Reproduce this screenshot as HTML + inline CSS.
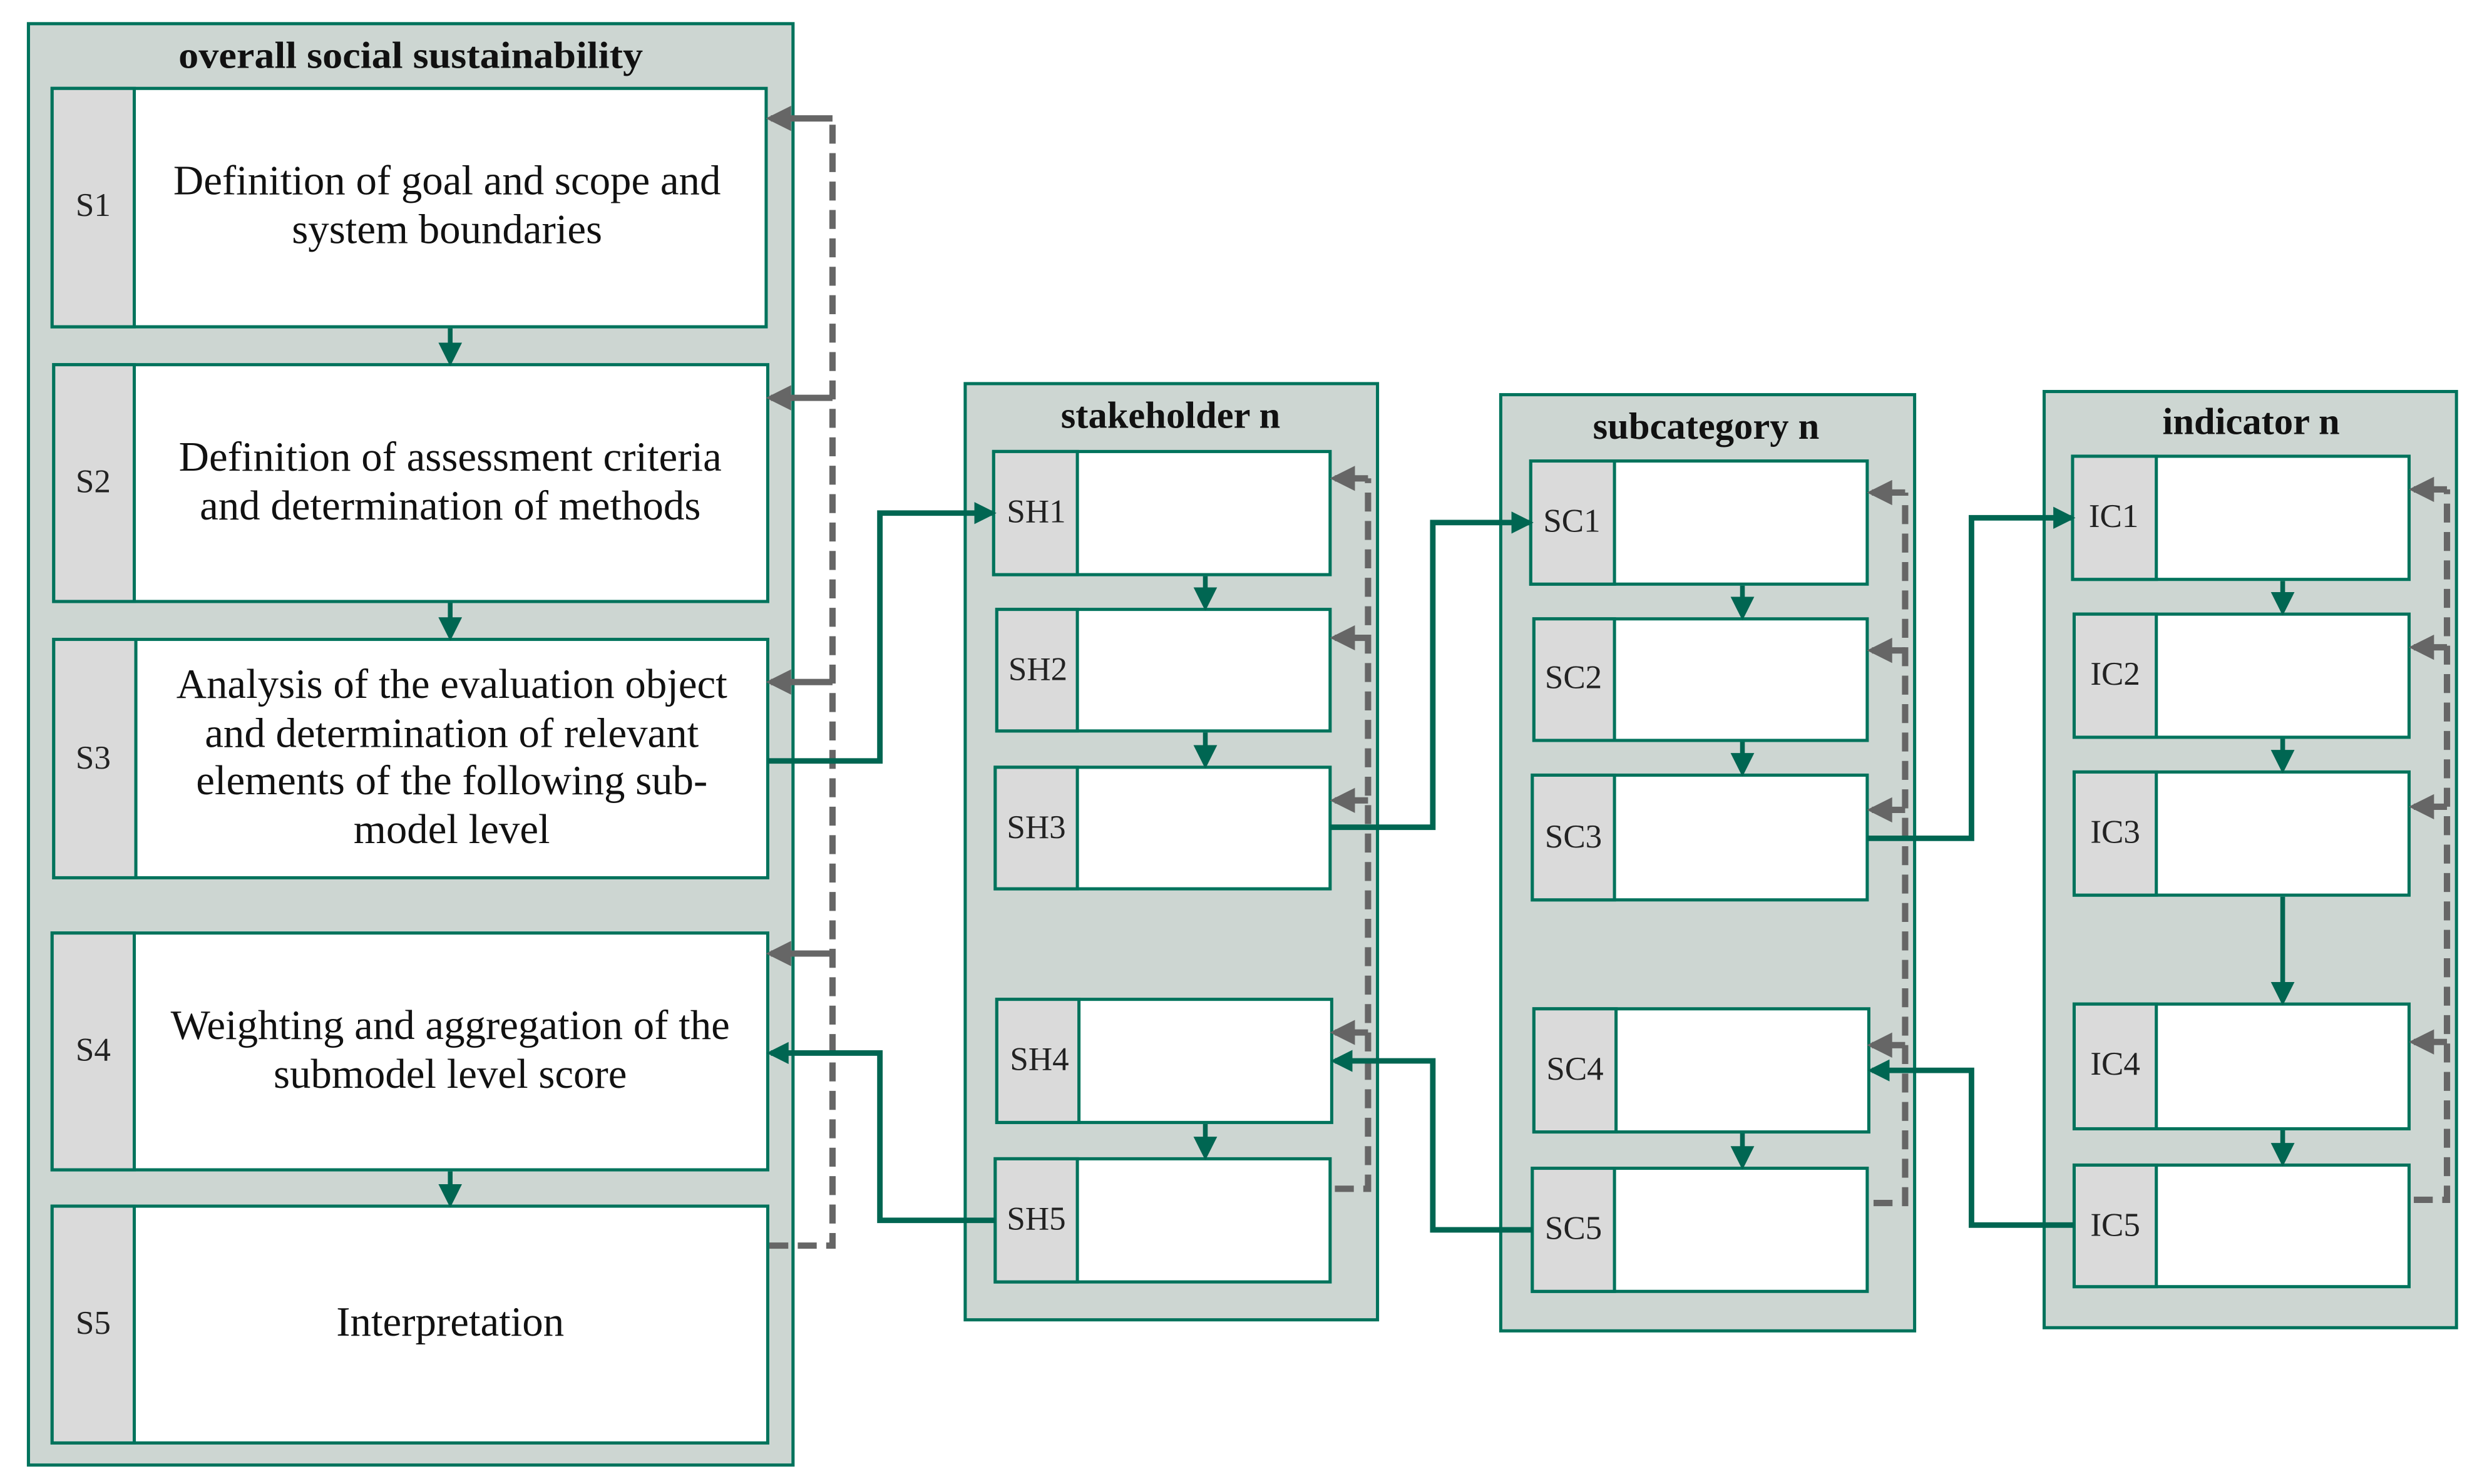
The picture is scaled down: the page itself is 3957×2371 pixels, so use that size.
<!DOCTYPE html>
<html><head><meta charset="utf-8"><style>html,body{margin:0;padding:0;background:#fff}svg{display:block}</style></head><body>
<svg width="3957" height="2371" viewBox="0 0 1568 940" preserveAspectRatio="none" xmlns="http://www.w3.org/2000/svg" font-family="'Liberation Serif', serif">
<defs>
<marker id="g" markerWidth="4" markerHeight="4" refX="3.2" refY="2" orient="auto" markerUnits="strokeWidth"><path d="M0,0 L4,2 L0,4 z" fill="#006652"/></marker>
<marker id="gs" markerWidth="5" markerHeight="5" refX="4" refY="2.5" orient="auto" markerUnits="strokeWidth"><path d="M0,0 L5,2.5 L0,5 z" fill="#006652"/></marker>
<marker id="d" markerWidth="4" markerHeight="4" refX="3.2" refY="2" orient="auto" markerUnits="strokeWidth"><path d="M0,0 L4,2 L0,4 z" fill="#666"/></marker>
</defs>
<g stroke="#00735c" stroke-width="2">
<rect x="18" y="15" width="484" height="913" fill="#cdd6d2"/>
<rect x="611" y="243" width="261" height="593" fill="#cdd6d2"/>
<rect x="950" y="250" width="262" height="593" fill="#cdd6d2"/>
<rect x="1294" y="248" width="261" height="593" fill="#cdd6d2"/>
</g>
<g font-weight="bold" font-size="24" text-anchor="middle" fill="#111">
<text x="260" y="43" textLength="294" lengthAdjust="spacingAndGlyphs">overall social sustainability</text>
<text x="741" y="271">stakeholder n</text>
<text x="1080" y="278">subcategory n</text>
<text x="1425" y="275">indicator n</text>
</g>
<g stroke="#00735c" stroke-width="2">
<rect x="33" y="56" width="452" height="151" fill="#fff"/><rect x="33" y="56" width="52" height="151" fill="#dadada"/>
<rect x="34" y="231" width="452" height="150" fill="#fff"/><rect x="34" y="231" width="51" height="150" fill="#dadada"/>
<rect x="34" y="405" width="452" height="151" fill="#fff"/><rect x="34" y="405" width="52" height="151" fill="#dadada"/>
<rect x="33" y="591" width="453" height="150" fill="#fff"/><rect x="33" y="591" width="52" height="150" fill="#dadada"/>
<rect x="33" y="764" width="453" height="150" fill="#fff"/><rect x="33" y="764" width="52" height="150" fill="#dadada"/>
<rect x="629" y="286" width="213" height="78" fill="#fff"/><rect x="629" y="286" width="53" height="78" fill="#dadada"/>
<rect x="631" y="386" width="211" height="77" fill="#fff"/><rect x="631" y="386" width="51" height="77" fill="#dadada"/>
<rect x="630" y="486" width="212" height="77" fill="#fff"/><rect x="630" y="486" width="52" height="77" fill="#dadada"/>
<rect x="631" y="633" width="212" height="78" fill="#fff"/><rect x="631" y="633" width="52" height="78" fill="#dadada"/>
<rect x="630" y="734" width="212" height="78" fill="#fff"/><rect x="630" y="734" width="52" height="78" fill="#dadada"/>
<rect x="969" y="292" width="213" height="78" fill="#fff"/><rect x="969" y="292" width="53" height="78" fill="#dadada"/>
<rect x="971" y="392" width="211" height="77" fill="#fff"/><rect x="971" y="392" width="51" height="77" fill="#dadada"/>
<rect x="970" y="491" width="212" height="79" fill="#fff"/><rect x="970" y="491" width="52" height="79" fill="#dadada"/>
<rect x="971" y="639" width="212" height="78" fill="#fff"/><rect x="971" y="639" width="52" height="78" fill="#dadada"/>
<rect x="970" y="740" width="212" height="78" fill="#fff"/><rect x="970" y="740" width="52" height="78" fill="#dadada"/>
<rect x="1312" y="289" width="213" height="78" fill="#fff"/><rect x="1312" y="289" width="53" height="78" fill="#dadada"/>
<rect x="1313" y="389" width="212" height="78" fill="#fff"/><rect x="1313" y="389" width="52" height="78" fill="#dadada"/>
<rect x="1313" y="489" width="212" height="78" fill="#fff"/><rect x="1313" y="489" width="52" height="78" fill="#dadada"/>
<rect x="1313" y="636" width="212" height="79" fill="#fff"/><rect x="1313" y="636" width="52" height="79" fill="#dadada"/>
<rect x="1313" y="738" width="212" height="77" fill="#fff"/><rect x="1313" y="738" width="52" height="77" fill="#dadada"/>
</g>
<g font-size="21" text-anchor="middle" fill="#222" dominant-baseline="middle">
<text x="59" y="132">S1</text><text x="59" y="307">S2</text><text x="59" y="482">S3</text><text x="59" y="667">S4</text><text x="59" y="840">S5</text>
<text x="656" y="326">SH1</text><text x="657" y="426">SH2</text><text x="656" y="526">SH3</text><text x="658" y="673">SH4</text><text x="656" y="774">SH5</text>
<text x="995" y="332">SC1</text><text x="996" y="431">SC2</text><text x="996" y="532">SC3</text><text x="997" y="679">SC4</text><text x="996" y="780">SC5</text>
<text x="1338" y="329">IC1</text><text x="1339" y="429">IC2</text><text x="1339" y="529">IC3</text><text x="1339" y="676">IC4</text><text x="1339" y="778">IC5</text>
</g>
<g font-size="26.5" text-anchor="middle" fill="#111" dominant-baseline="middle">
<text x="283" y="117">Definition of goal and scope and</text>
<text x="283" y="148">system boundaries</text>
<text x="285" y="292">Definition of assessment criteria</text>
<text x="285" y="323">and determination of methods</text>
<text x="286" y="436">Analysis of the evaluation object</text>
<text x="286" y="467">and determination of relevant</text>
<text x="286" y="497">elements of the following  sub-</text>
<text x="286" y="528">model level</text>
<text x="285" y="652">Weighting and aggregation of the</text>
<text x="285" y="683">submodel level score</text>
<text x="285" y="840">Interpretation</text>
</g>
<g stroke="#006652" stroke-width="3" marker-end="url(#gs)">
<line x1="285" y1="208" x2="285" y2="229"/><line x1="285" y1="382" x2="285" y2="403"/><line x1="285" y1="742" x2="285" y2="762"/>
<line x1="763" y1="365" x2="763" y2="384"/><line x1="763" y1="464" x2="763" y2="484"/><line x1="763" y1="712" x2="763" y2="732"/>
<line x1="1103" y1="371" x2="1103" y2="390"/><line x1="1103" y1="470" x2="1103" y2="489"/><line x1="1103" y1="718" x2="1103" y2="738"/>
<line x1="1445" y1="368" x2="1445" y2="387"/><line x1="1445" y1="468" x2="1445" y2="487"/><line x1="1445" y1="568" x2="1445" y2="634"/><line x1="1445" y1="716" x2="1445" y2="736"/>
</g>
<g stroke="#666" stroke-width="4" fill="none" stroke-dasharray="12,6">
<path d="M487,789 H527 V75"/>
<path d="M845,753 H866 V303"/>
<path d="M1186,762 H1206 V312"/>
<path d="M1528,760 H1549 V310"/>
</g>
<g stroke="#666" stroke-width="4" marker-end="url(#d)">
<line x1="527" y1="75" x2="488" y2="75"/><line x1="527" y1="252" x2="488" y2="252"/><line x1="527" y1="432" x2="488" y2="432"/><line x1="527" y1="604" x2="488" y2="604"/>
<line x1="866" y1="303" x2="845" y2="303"/><line x1="866" y1="404" x2="845" y2="404"/><line x1="866" y1="507" x2="845" y2="507"/><line x1="866" y1="654" x2="845" y2="654"/>
<line x1="1206" y1="312" x2="1185" y2="312"/><line x1="1206" y1="412" x2="1185" y2="412"/><line x1="1206" y1="513" x2="1185" y2="513"/><line x1="1206" y1="662" x2="1185" y2="662"/>
<line x1="1549" y1="310" x2="1528" y2="310"/><line x1="1549" y1="410" x2="1528" y2="410"/><line x1="1549" y1="511" x2="1528" y2="511"/><line x1="1549" y1="660" x2="1528" y2="660"/>
</g>
<g stroke="#006652" stroke-width="3.5" fill="none" marker-end="url(#g)">
<path d="M486,482 H557 V325 H628"/>
<path d="M630,773 H557 V667 H488"/>
<path d="M842,524 H907 V331 H968"/>
<path d="M970,779 H907 V672 H845"/>
<path d="M1182,531 H1248 V328 H1311"/>
<path d="M1313,776 H1248 V678 H1185"/>
</g>
</svg>
</body></html>
